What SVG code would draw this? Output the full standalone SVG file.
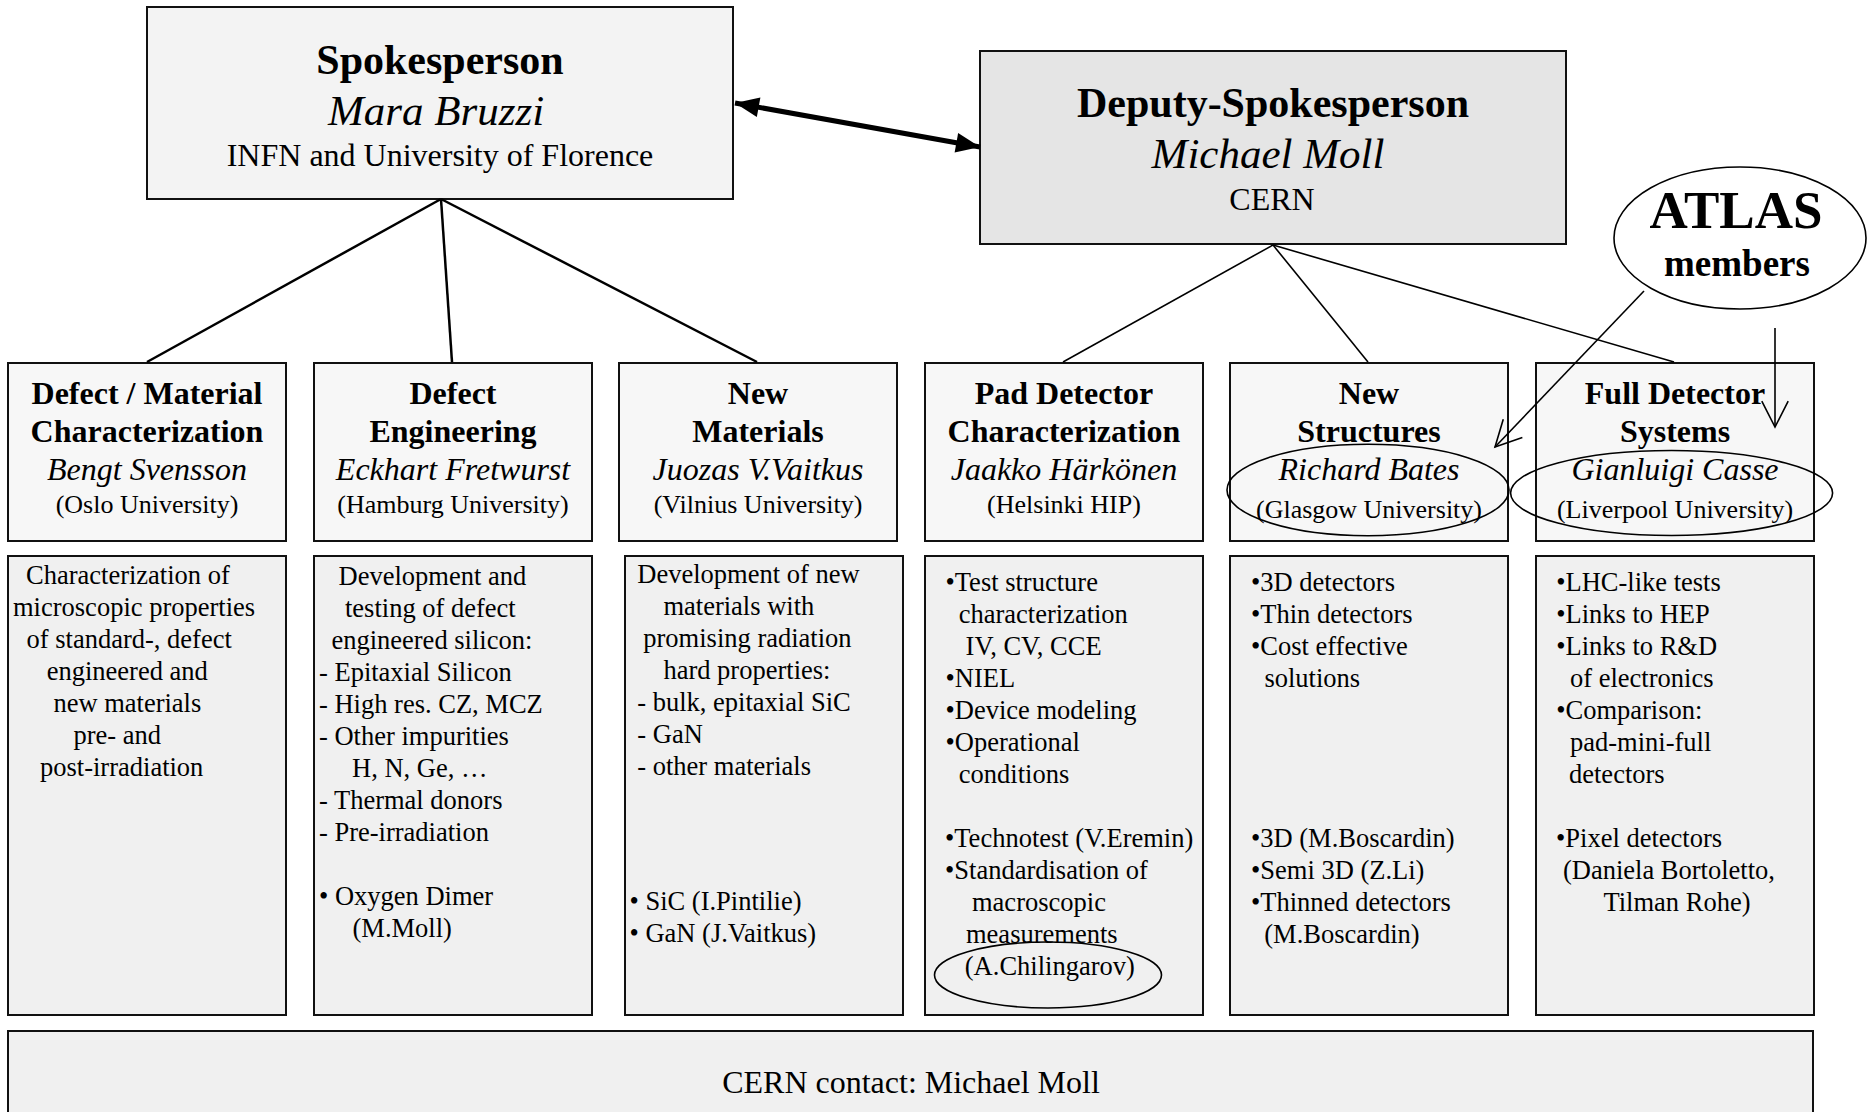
<svg xmlns="http://www.w3.org/2000/svg" width="1871" height="1112" viewBox="0 0 1871 1112">
<style>
text{font-family:"Liberation Serif","Times New Roman",serif;fill:#000}
.box{stroke:#111;stroke-width:2}
.top1{fill:#f3f3f3}
.top2{fill:#e5e5e5}
.hdr{fill:#f7f7f7}
.cnt{fill:#f0f0f0}
.m{text-anchor:middle}
.b{font-weight:bold;font-size:32px}
.i{font-style:italic;font-size:32px}
.r{font-size:26px}
.c{font-size:26.5px}
.ring{fill:none;stroke:#000;stroke-width:1.6}
.thin{fill:none;stroke:#000;stroke-width:1.6}
</style>
<defs>
<marker id="solid" markerUnits="userSpaceOnUse" viewBox="-26 -11 27 22" refX="0" refY="0" markerWidth="27" markerHeight="22" orient="auto-start-reverse" overflow="visible">
<path d="M0,0 L-24,-10 L-24,10 Z" fill="#000"/>
</marker>
<marker id="open" markerUnits="userSpaceOnUse" viewBox="-28 -15 30 30" refX="0" refY="0" markerWidth="30" markerHeight="30" orient="auto" overflow="visible">
<path d="M-25.8,-13.2 L0,0 L-25.8,13.2" fill="none" stroke="#000" stroke-width="1.6"/>
</marker>
</defs>

<g id="spokesperson">
<rect class="box top1" x="147" y="7" width="586" height="192"/>
<text class="m" x="440" y="74" font-weight="bold" font-size="42">Spokesperson</text>
<text class="m" x="436" y="125" font-style="italic" font-size="43">Mara Bruzzi</text>
<text class="m" x="440" y="166" font-size="32">INFN and University of Florence</text>
</g>

<g id="deputy">
<rect class="box top2" x="980" y="51" width="586" height="193"/>
<text class="m" x="1273" y="117" font-weight="bold" font-size="42">Deputy-Spokesperson</text>
<text class="m" x="1268" y="168" font-style="italic" font-size="43">Michael Moll</text>
<text class="m" x="1272" y="210" font-size="32">CERN</text>
</g>

<g id="atlas">
<ellipse class="ring" cx="1740" cy="238" rx="126" ry="71"/>
<text class="m" x="1736" y="228" font-weight="bold" font-size="53">ATLAS</text>
<text class="m" x="1737" y="276" font-weight="bold" font-size="37">members</text>
</g>

<g id="defect-material">
<rect class="box hdr" x="8" y="363" width="278" height="178"/>
<text class="m b" x="147" y="404">Defect / Material</text>
<text class="m b" x="147" y="442">Characterization</text>
<text class="m i" x="147" y="480">Bengt Svensson</text>
<text class="m r" x="147" y="513">(Oslo University)</text>
</g>
<g id="defect-material-tasks">
<rect class="box cnt" x="8" y="556" width="278" height="459"/>
<text class="c" x="26" y="584">Characterization of</text>
<text class="c" x="13" y="616">microscopic properties</text>
<text class="c" x="26.5" y="648">of standard-, defect</text>
<text class="c" x="46.7" y="680">engineered and</text>
<text class="c" x="53.4" y="712">new materials</text>
<text class="c" x="73.5" y="744">pre- and</text>
<text class="c" x="40" y="776">post-irradiation</text>
</g>

<g id="defect-engineering">
<rect class="box hdr" x="314" y="363" width="278" height="178"/>
<text class="m b" x="453" y="404">Defect</text>
<text class="m b" x="453" y="442">Engineering</text>
<text class="m i" x="453" y="480">Eckhart Fretwurst</text>
<text class="m r" x="453" y="513">(Hamburg University)</text>
</g>
<g id="defect-engineering-tasks">
<rect class="box cnt" x="314" y="556" width="278" height="459"/>
<text class="c" x="338.5" y="585">Development and</text>
<text class="c" x="345" y="617">testing of defect</text>
<text class="c" x="331.4" y="649">engineered silicon:</text>
<text class="c" x="319" y="681">- Epitaxial Silicon</text>
<text class="c" x="319" y="713">- High res. CZ, MCZ</text>
<text class="c" x="319" y="745">- Other impurities</text>
<text class="c" x="352" y="777">H, N, Ge, …</text>
<text class="c" x="319" y="809">- Thermal donors</text>
<text class="c" x="319" y="841">- Pre-irradiation</text>
<text class="c" x="319" y="905">• Oxygen Dimer</text>
<text class="c" x="352.5" y="937">(M.Moll)</text>
</g>

<g id="new-materials">
<rect class="box hdr" x="619" y="363" width="278" height="178"/>
<text class="m b" x="758" y="404">New</text>
<text class="m b" x="758" y="442">Materials</text>
<text class="m i" x="758" y="480">Juozas V.Vaitkus</text>
<text class="m r" x="758" y="513">(Vilnius University)</text>
</g>
<g id="new-materials-tasks">
<rect class="box cnt" x="625" y="556" width="278" height="459"/>
<text class="c" x="637.3" y="583">Development of new</text>
<text class="c" x="663.4" y="615">materials with</text>
<text class="c" x="643.3" y="647">promising radiation</text>
<text class="c" x="663.4" y="679">hard properties:</text>
<text class="c" x="637.3" y="711">- bulk, epitaxial SiC</text>
<text class="c" x="637.3" y="743">- GaN</text>
<text class="c" x="637.3" y="775">- other materials</text>
<text class="c" x="629.5" y="910">• SiC (I.Pintilie)</text>
<text class="c" x="629.5" y="942">• GaN (J.Vaitkus)</text>
</g>

<g id="pad-detector">
<rect class="box hdr" x="925" y="363" width="278" height="178"/>
<text class="m b" x="1064" y="404">Pad Detector</text>
<text class="m b" x="1064" y="442">Characterization</text>
<text class="m i" x="1064" y="480">Jaakko Härkönen</text>
<text class="m r" x="1064" y="513">(Helsinki HIP)</text>
</g>
<g id="pad-detector-tasks">
<rect class="box cnt" x="925" y="556" width="278" height="459"/>
<text class="c" x="945.5" y="591">•Test structure</text>
<text class="c" x="958.7" y="623">characterization</text>
<text class="c" x="965.6" y="655">IV, CV, CCE</text>
<text class="c" x="945.5" y="687">•NIEL</text>
<text class="c" x="945.5" y="719">•Device modeling</text>
<text class="c" x="945.5" y="751">•Operational</text>
<text class="c" x="958.8" y="783">conditions</text>
<text class="c" x="945" y="847">•Technotest (V.Eremin)</text>
<text class="c" x="945" y="879">•Standardisation of</text>
<text class="c" x="972" y="911">macroscopic</text>
<text class="c" x="966" y="943">measurements</text>
<text class="c" x="964.8" y="975">(A.Chilingarov)</text>
<ellipse class="ring" cx="1048" cy="975" rx="113.5" ry="33"/>
</g>

<g id="new-structures">
<rect class="box hdr" x="1230" y="363" width="278" height="178"/>
<text class="m b" x="1369" y="404">New</text>
<text class="m b" x="1369" y="442">Structures</text>
<text class="m i" x="1369" y="480">Richard Bates</text>
<text class="m r" x="1369" y="518">(Glasgow University)</text>
<ellipse class="ring" cx="1368" cy="490" rx="141" ry="45.7"/>
</g>
<g id="new-structures-tasks">
<rect class="box cnt" x="1230" y="556" width="278" height="459"/>
<text class="c" x="1251" y="591">•3D detectors</text>
<text class="c" x="1251" y="623">•Thin detectors</text>
<text class="c" x="1251" y="655">•Cost effective</text>
<text class="c" x="1264.4" y="687">solutions</text>
<text class="c" x="1251" y="847">•3D (M.Boscardin)</text>
<text class="c" x="1251" y="879">•Semi 3D (Z.Li)</text>
<text class="c" x="1251" y="911">•Thinned detectors</text>
<text class="c" x="1264.3" y="943">(M.Boscardin)</text>
</g>

<g id="full-detector">
<rect class="box hdr" x="1536" y="363" width="278" height="178"/>
<text class="m b" x="1675" y="404">Full Detector</text>
<text class="m b" x="1675" y="442">Systems</text>
<text class="m i" x="1675" y="480">Gianluigi Casse</text>
<text class="m r" x="1675" y="518">(Liverpool University)</text>
<ellipse class="ring" cx="1671.6" cy="493" rx="161" ry="42.5"/>
</g>
<g id="full-detector-tasks">
<rect class="box cnt" x="1536" y="556" width="278" height="459"/>
<text class="c" x="1556.2" y="591">•LHC-like tests</text>
<text class="c" x="1556.2" y="623">•Links to HEP</text>
<text class="c" x="1556.2" y="655">•Links to R&amp;D</text>
<text class="c" x="1570" y="687">of electronics</text>
<text class="c" x="1556.2" y="719">•Comparison:</text>
<text class="c" x="1570" y="751">pad-mini-full</text>
<text class="c" x="1569" y="783">detectors</text>
<text class="c" x="1556" y="847">•Pixel detectors</text>
<text class="c" x="1563" y="879">(Daniela Bortoletto,</text>
<text class="c" x="1603.5" y="911">Tilman Rohe)</text>
</g>

<g id="cern-contact">
<rect class="box cnt" x="8" y="1031" width="1805" height="120"/>
<text class="m" x="911" y="1093" font-size="32">CERN contact: Michael Moll</text>
</g>

<g id="connectors">
<line x1="735" y1="103" x2="980" y2="147" stroke="#000" stroke-width="5" marker-start="url(#solid)" marker-end="url(#solid)"/>
<g stroke="#000" stroke-width="2.5" fill="none">
<line x1="441" y1="199" x2="147" y2="362"/>
<line x1="441" y1="199" x2="452" y2="362"/>
<line x1="441" y1="199" x2="757" y2="362"/>
</g>
<g stroke="#000" stroke-width="1.6" fill="none">
<line x1="1273" y1="245" x2="1063" y2="362"/>
<line x1="1273" y1="245" x2="1368" y2="362"/>
<line x1="1273" y1="245" x2="1674" y2="362"/>
</g>
<line class="thin" x1="1644" y1="291" x2="1495" y2="447" marker-end="url(#open)"/>
<line class="thin" x1="1775" y1="328" x2="1775" y2="427" marker-end="url(#open)"/>
</g>
</svg>
